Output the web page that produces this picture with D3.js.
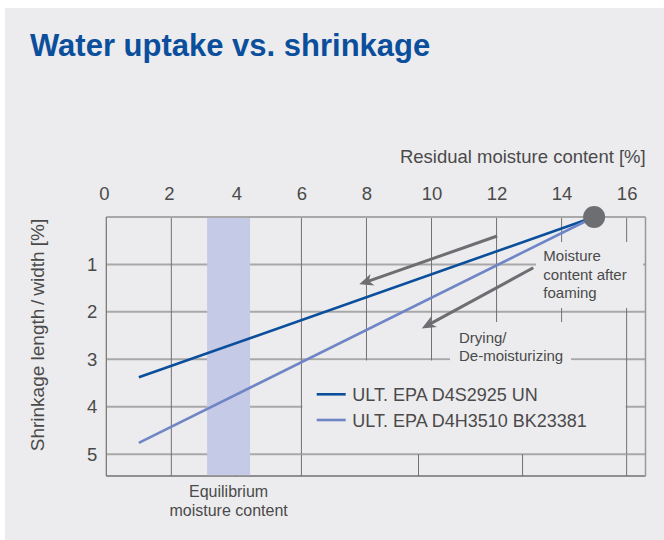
<!DOCTYPE html>
<html>
<head>
<meta charset="utf-8">
<script src="https://cdn.jsdelivr.net/npm/d3@7"></script>
<style>
  body { margin: 0; background: #fff; }
  text { font-family: "Liberation Sans", Arial, sans-serif; }
</style>
</head>
<body>
<svg id="chart"></svg>
<script>
// values
const xTicks = [0, 2, 4, 6, 8, 10, 12, 14, 16];
const yTicks = [1, 2, 3, 4, 5];
const moisture = [1, 15];
const shrinkD4S = [3.38, 0];
const shrinkD4H = [4.76, 0];
const seriesNames = ["ULT. EPA D4S2925 UN", "ULT. EPA D4H3510 BK23381"];
const equilibriumBand = [3.1, 4.42];
const startPoint = [15, 0];
const arrowFrom = [[12.02, 0.40], [13.13, 1.07]];
const arrowTo = [[7.78, 1.42], [9.70, 2.35]];
const bottomRowLines = [9.6, 12.8];

const W = 664, H = 540;
const bg = "#ececee";
const darkBlue = "#0b4f9c", lightBlue = "#7085c6", grey = "#6d6e71";
const vGrid = "#727272", hGrid = "#a8a8a8", txt = "#4a4a4a";

const svg = d3.select("#chart").attr("width", W).attr("height", H);

svg.append("rect").attr("x", 5).attr("y", 8).attr("width", W - 5).attr("height", H - 8)
  .attr("fill", bg);

svg.append("text").attr("x", 30).attr("y", 56)
  .attr("font-size", 31).attr("font-weight", "bold").attr("fill", darkBlue)
  .text("Water uptake vs. shrinkage");

const x = d3.scaleLinear().domain([0, 16.58]).range([106.3, 645.5]);
const y = d3.scaleLinear().domain([0, 5.46]).range([217, 476]);

const g = svg.append("g");

// grid
g.selectAll(".hg").data(yTicks).join("line")
  .attr("x1", x(0)).attr("x2", x.range()[1])
  .attr("y1", d => y(d)).attr("y2", d => y(d))
  .attr("stroke", hGrid).attr("stroke-width", 2);
g.selectAll(".vg").data(xTicks.filter(d => d > 0)).join("line")
  .attr("x1", d => x(d)).attr("x2", d => x(d))
  .attr("y1", y(0)).attr("y2", y.range()[1])
  .attr("stroke", vGrid).attr("stroke-width", 1);

// legend area clears the grid between 6 and 16, 3 and bottom
g.append("rect")
  .attr("x", x(6) + 1).attr("y", y(3) + 1.2)
  .attr("width", x(16) - x(6) - 2).attr("height", y.range()[1] - y(3) - 1.2)
  .attr("fill", bg);
g.append("line")
  .attr("x1", x(6)).attr("x2", x(16)).attr("y1", y(5)).attr("y2", y(5))
  .attr("stroke", hGrid).attr("stroke-width", 2);
g.selectAll(".br").data(bottomRowLines).join("line")
  .attr("x1", d => x(d)).attr("x2", d => x(d))
  .attr("y1", y(5)).attr("y2", y.range()[1])
  .attr("stroke", vGrid).attr("stroke-width", 1);

// label backgrounds
g.append("rect").attr("x", 536).attr("y", 242).attr("width", 107).attr("height", 66).attr("fill", bg);
g.append("rect").attr("x", 450).attr("y", 322).attr("width", 121).attr("height", 41).attr("fill", bg);

// frame
g.append("line").attr("x1", x(0)).attr("x2", x.range()[1]).attr("y1", y(0)).attr("y2", y(0))
  .attr("stroke", hGrid).attr("stroke-width", 2);
g.append("line").attr("x1", x(0)).attr("x2", x.range()[1]).attr("y1", y.range()[1]).attr("y2", y.range()[1])
  .attr("stroke", vGrid).attr("stroke-width", 1.5);
g.append("line").attr("x1", x(0)).attr("x2", x(0)).attr("y1", y(0)).attr("y2", y.range()[1])
  .attr("stroke", vGrid).attr("stroke-width", 1.2);
g.append("line").attr("x1", x.range()[1]).attr("x2", x.range()[1]).attr("y1", y(0)).attr("y2", y.range()[1])
  .attr("stroke", "#999").attr("stroke-width", 1.5);

// equilibrium band
g.append("rect")
  .attr("x", x(equilibriumBand[0])).attr("y", y(0) + 1)
  .attr("width", x(equilibriumBand[1]) - x(equilibriumBand[0]))
  .attr("height", y.range()[1] - y(0) - 1.8)
  .attr("fill", "#c5cae6");

// axes
const xAxis = svg.append("g").attr("transform", `translate(0,${y(0)})`)
  .call(d3.axisTop(x).tickValues(xTicks).tickFormat(d3.format("d")).tickSize(0).tickPadding(17));
const yAxis = svg.append("g").attr("transform", `translate(${x(0)},0)`)
  .call(d3.axisLeft(y).tickValues(yTicks).tickFormat(d3.format("d")).tickSize(0).tickPadding(9));
[xAxis, yAxis].forEach(a => {
  a.select(".domain").remove();
  a.selectAll("text").attr("font-size", 18.5).attr("fill", txt)
    .attr("font-family", "'Liberation Sans', Arial, sans-serif");
});
xAxis.selectAll(".tick").filter(d => d < 3).select("text").attr("dx", -2.5);

svg.append("text").attr("x", 645.7).attr("y", 162.7).attr("text-anchor", "end")
  .attr("font-size", 18.5).attr("fill", txt).text("Residual moisture content [%]");
svg.append("text").attr("transform", "translate(44,335) rotate(-90)")
  .attr("text-anchor", "middle").attr("font-size", 19).attr("fill", txt)
  .text("Shrinkage length\u2009/\u2009width [%]");

// series
const line = d3.line().x(d => x(d[0])).y(d => y(d[1]));
const series = [
  { name: seriesNames[0], values: d3.zip(moisture, shrinkD4S), color: darkBlue },
  { name: seriesNames[1], values: d3.zip(moisture, shrinkD4H), color: lightBlue }
];
g.selectAll(".series").data(series).join("path")
  .attr("d", d => line(d.values))
  .attr("fill", "none").attr("stroke", d => d.color).attr("stroke-width", 2.6);

g.append("circle").attr("cx", x(startPoint[0])).attr("cy", y(startPoint[1])).attr("r", 11)
  .attr("fill", grey);

// arrows
arrowFrom.forEach((f, i) => {
  const x1 = x(f[0]), y1 = y(f[1]), x2 = x(arrowTo[i][0]), y2 = y(arrowTo[i][1]);
  const ang = Math.atan2(y2 - y1, x2 - x1);
  g.append("line").attr("x1", x1).attr("y1", y1)
    .attr("x2", x2 - 9 * Math.cos(ang)).attr("y2", y2 - 9 * Math.sin(ang))
    .attr("stroke", grey).attr("stroke-width", 3);
  g.append("path").attr("d", "M0,0 L-14,-6 L-10,0 L-14,6 Z")
    .attr("transform", `translate(${x2},${y2}) rotate(${ang * 180 / Math.PI})`)
    .attr("fill", grey);
});

// annotations
const note = (lines, xx, yy, lh, size, anchor) => {
  const t = svg.append("text").attr("font-size", size).attr("fill", txt)
    .attr("text-anchor", anchor || "start");
  lines.forEach((s, i) => t.append("tspan").attr("x", xx).attr("y", yy + i * lh).text(s));
};
note(["Moisture", "content after", "foaming"], 543.3, 261, 18.6, 15);
note(["Drying/", "De-moisturizing"], 459, 343.3, 17.7, 15);
note(["Equilibrium", "moisture content"], (x(equilibriumBand[0]) + x(equilibriumBand[1])) / 2, 497.3, 18.7, 16, "middle");

// legend
const leg = svg.append("g").attr("transform", "translate(316.7,394.3)");
const li = leg.selectAll("g").data(series).join("g").attr("transform", (d, i) => `translate(0,${i * 25.7})`);
li.append("line").attr("x1", 0).attr("x2", 29).attr("stroke", d => d.color).attr("stroke-width", 2.6);
li.append("text").attr("x", 35.6).attr("y", 6.7).attr("font-size", 18).attr("fill", txt).text(d => d.name);
</script>
</body>
</html>
